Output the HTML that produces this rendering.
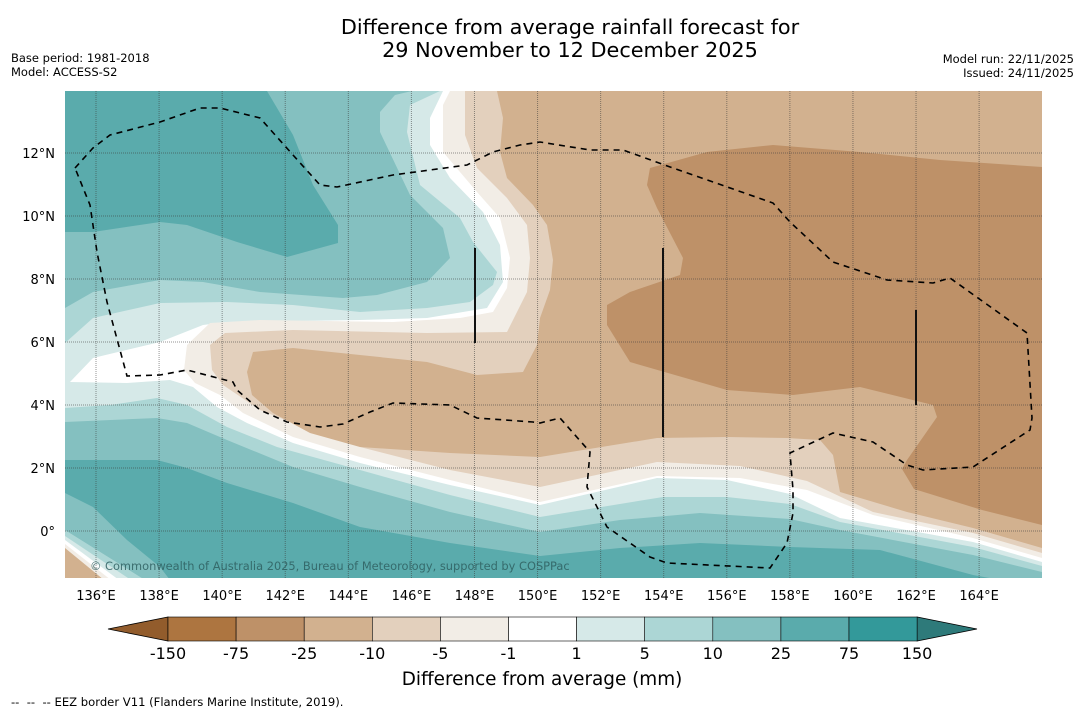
<!DOCTYPE html>
<html><head><meta charset="utf-8">
<style>
html,body{margin:0;padding:0;background:#fff;}
body{width:1085px;height:713px;overflow:hidden;font-family:"DejaVu Sans","Liberation Sans",sans-serif;}
svg{display:block}
</style></head>
<body>
<svg id="chart" width="1085" height="713" xmlns="http://www.w3.org/2000/svg">
  <text x="570" y="34" font-size="20.8" text-anchor="middle" fill="#000">Difference from average rainfall forecast for</text>
  <text x="570" y="57" font-size="20.8" text-anchor="middle" fill="#000">29 November to 12 December 2025</text>
  <text x="11" y="62" font-size="11.5">Base period: 1981-2018</text>
  <text x="11" y="76" font-size="11.5">Model: ACCESS-S2</text>
  <text x="1074" y="63" font-size="11.5" text-anchor="end">Model run: 22/11/2025</text>
  <text x="1074" y="77" font-size="11.5" text-anchor="end">Issued: 24/11/2025</text>

  <defs><clipPath id="plotclip"><rect x="65" y="91" width="977" height="487"/></clipPath></defs>
  <g id="map" clip-path="url(#plotclip)"></g>
  <g id="axes"></g>
  <g id="cbar"></g>

  <text x="542" y="685" font-size="18.4" text-anchor="middle">Difference from average (mm)</text>
  <text x="11" y="706" font-size="11.6">--&#160; --&#160; -- EEZ border V11 (Flanders Marine Institute, 2019).</text>
</svg>
<script>
// Colour scale data
const levels = [-150, -75, -25, -10, -5, -1, 1, 5, 10, 25, 75, 150];
const levelLabels = ["-150","-75","-25","-10","-5","-1","1","5","10","25","75","150"];
const bandColors = ["#ad7540","#be9168","#d2b18f","#e3d0bd","#f2ede6","#ffffff","#d6e9e8","#acd6d5","#84c0c0","#5aabac","#33999a"];
const lowExtColor = "#925c2c";
const highExtColor = "#2e7a7a";
// Axis tick data
const lonTicks = [136,138,140,142,144,146,148,150,152,154,156,158,160,162,164];
const latTicks = [0,2,4,6,8,10,12];
const lonMin = 135, lonMax = 166, latMin = -1.5, latMax = 13.97;

const PX0 = 65, PX1 = 1042, PY0 = 91, PY1 = 578;
function xLon(l){ return 96 + (l-136)*31.54; }
function yLat(l){ return 531 - l*31.5; }

const NS = "http://www.w3.org/2000/svg";
function mk(tag, attrs, parent){ const e=document.createElementNS(NS,tag); for(const k in attrs) e.setAttribute(k,attrs[k]); parent.appendChild(e); return e; }

const map = document.getElementById('map');
const regions = [
 ["band-10", "#84c0c0", "M65,91 L1042,91 L1042,578 L65,578 Z"],
 ["band-25-north", "#5aabac", "M65,91 L267,91 L293,135 L313,185 L338,225 L338,243 L287,257 L237,242 L187,225 L160,222 L93,232 L65,232 Z"],
 ["band-25-south", "#5aabac", "M65,460 L157,460 L187,468 L227,483 L293,503 L360,527 L450,543 L540,556 L620,548 L700,543 L790,547 L880,550 L973,575 L1000,580 L170,580 L160,567 L127,540 L93,507 L65,493 Z"],
 ["band-5", "#acd6d5", "M65,308 L93,292 L160,280 L203,282 L260,292 L343,298 L377,295 L427,282 L450,258 L443,228 L410,195 L380,132 L380,112 L395,95 L412,91 L1042,91 L1042,572 L973,555 L840,530 L790,519 L700,513 L620,520 L540,532 L450,512 L360,487 L293,467 L227,440 L187,423 L157,418 L65,422 Z"],
 ["band-1", "#d6e9e8", "M65,343 L93,318 L160,303 L227,302 L293,305 L360,312 L427,308 L470,302 L493,285 L497,272 L473,242 L460,218 L420,185 L407,132 L410,105 L440,91 L1042,91 L1042,566 L973,547 L840,522 L790,504 L727,497 L663,497 L540,517 L450,495 L360,470 L277,447 L227,427 L187,405 L157,398 L110,405 L65,408 Z"],
 ["band-minus1", "#ffffff", "M70,382 L93,358 L160,342 L203,325 L227,322 L360,320 L427,318 L487,308 L503,282 L500,245 L483,212 L450,178 L430,145 L430,118 L443,91 L1042,91 L1042,562 L973,542 L840,518 L790,494 L727,480 L657,478 L540,505 L450,485 L360,463 L293,443 L247,423 L217,407 L193,387 L170,380 L127,383 Z"],
 ["band-minus5", "#f2ede6", "M210,323 L260,320 L393,322 L460,318 L493,312 L507,288 L510,258 L500,218 L477,192 L443,152 L443,105 L450,91 L1042,91 L1042,558 L973,538 L873,515 L807,490 L740,478 L657,476 L540,502 L450,480 L360,457 L293,437 L243,413 L220,395 L195,383 L184,370 L187,345 Z"],
 ["band-minus10", "#e3d0bd", "M465,91 L1042,91 L1042,553 L973,533 L873,512 L807,481 L740,466 L657,462 L540,487 L450,470 L360,447 L293,423 L260,410 L223,385 L212,370 L210,345 L225,333 L293,330 L427,333 L507,332 L527,292 L530,258 L527,225 L507,198 L477,168 L465,135 Z"],
 ["band-minus25", "#d2b18f", "M497,91 L1042,91 L1042,548 L973,528 L907,512 L840,492 L833,455 L820,440 L787,438 L727,437 L657,438 L540,457 L450,453 L360,447 L310,433 L273,413 L252,395 L247,372 L253,352 L293,348 L360,355 L427,362 L477,375 L523,372 L537,345 L540,318 L550,290 L553,260 L547,225 L533,205 L507,178 L500,152 L503,118 Z"],
 ["band-minus75", "#be9168", "M650,168 L707,152 L773,145 L860,152 L940,160 L1042,167 L1042,525 L982,510 L914,489 L902,469 L907,460 L937,417 L933,405 L860,387 L793,395 L727,390 L630,362 L607,325 L607,305 L630,292 L680,275 L683,258 L657,208 L647,185 Z"],
 ["corner-5", "#acd6d5", "M65,530 L145,580 L65,580 Z"],
 ["corner-1", "#d6e9e8", "M65,536 L131,580 L65,580 Z"],
 ["corner-white", "#ffffff", "M65,540 L119,580 L65,580 Z"],
 ["corner-minus5", "#f2ede6", "M65,544 L111,580 L65,580 Z"],
 ["corner-minus25", "#d2b18f", "M65,548 L104,580 L65,580 Z"]
];
regions.forEach(r=>{
  const p = mk('path',{d:r[2],fill:r[1]},map);
  
  
});

lonTicks.forEach(l=>{
  const ln = mk('line',{x1:xLon(l),x2:xLon(l),y1:PY0,y2:PY1,stroke:"#3a3a3a","stroke-opacity":"0.55","stroke-width":"1","stroke-dasharray":"1,1"},map);
  
  
});
latTicks.forEach(l=>{
  const ln = mk('line',{x1:PX0,x2:PX1,y1:yLat(l),y2:yLat(l),stroke:"#3a3a3a","stroke-opacity":"0.55","stroke-width":"1","stroke-dasharray":"1,1"},map);
  
  
});

const eez = mk('path',{d:"M75,168 L93,148 L110,135 L160,122 L200,108 L220,108 L260,118 L293,155 L320,185 L337,187 L393,175 L467,165 L493,152 L520,145 L540,142 L590,150 L623,150 L673,168 L773,203 L790,222 L833,262 L887,280 L933,283 L950,278 L1027,333 L1032,418 L1030,430 L973,467 L923,470 L907,465 L873,442 L833,433 L790,453 L793,490 L793,513 L787,543 L770,568 L667,563 L650,557 L607,527 L587,487 L590,452 L560,418 L540,423 L533,422 L477,418 L450,405 L393,403 L370,412 L343,424 L320,427 L287,422 L260,410 L237,390 L233,382 L187,370 L160,375 L127,376 L107,302 L97,252 L90,205 Z",fill:"none",stroke:"#000","stroke-width":"1.6","stroke-dasharray":"6,5"},map);


[[475,248,343],[663,248,437],[916,310,405]].forEach(v=>{
  const ln = mk('line',{x1:v[0],x2:v[0],y1:v[1],y2:v[2],stroke:"#111","stroke-width":"2"},map);
  
  
});
const cr = mk('text',{x:90,y:570,"font-size":"11.4",fill:"#2f5f60","fill-opacity":"0.85"},map);
cr.textContent = "© Commonwealth of Australia 2025, Bureau of Meteorology, supported by COSPPac";



const axes = document.getElementById('axes');
lonTicks.forEach(l=>{
  const t = mk('text',{x:xLon(l),y:600,"font-size":"13","text-anchor":"middle"},axes);
  t.textContent = l + "°E";
  
  
});
latTicks.forEach(l=>{
  const t = mk('text',{x:55,y:yLat(l)+5,"font-size":"13","text-anchor":"end"},axes);
  t.textContent = l===0 ? "0°" : l + "°N";
  
  
});

const cb = document.getElementById('cbar');
const cbX0 = 168, cbW = 68.1, cbY = 617, cbH = 24;
function xLevelIdx(i){ return cbX0 + i*cbW; }
const lowArrow = mk('polygon',{points:`${cbX0},${cbY} ${cbX0},${cbY+cbH} 108,${cbY+cbH/2}`,fill:lowExtColor,stroke:"#000","stroke-width":"0.8"},cb);


const xEnd = xLevelIdx(levels.length-1);
const highArrow = mk('polygon',{points:`${xEnd},${cbY} ${xEnd},${cbY+cbH} 977,${cbY+cbH/2}`,fill:highExtColor,stroke:"#000","stroke-width":"0.8"},cb);


bandColors.forEach((c,i)=>{
  const r = mk('rect',{x:xLevelIdx(i),y:cbY,width:cbW,height:cbH,fill:c,stroke:"#000","stroke-width":"0.6"},cb);
  
  
});
levelLabels.forEach((s,i)=>{
  const t = mk('text',{x:xLevelIdx(i),y:659,"font-size":"16","text-anchor":"middle"},cb);
  t.textContent = s;
  
  
});
</script>
</body></html>
